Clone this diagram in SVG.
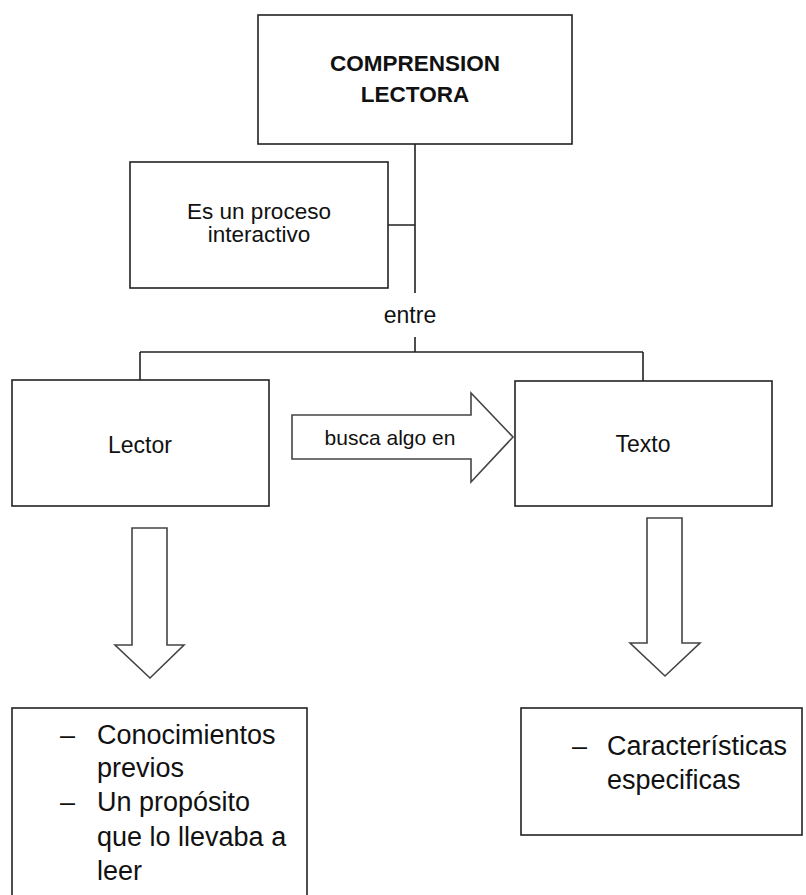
<svg xmlns="http://www.w3.org/2000/svg" width="806" height="895" viewBox="0 0 806 895">
<style>
.box{fill:#fff;stroke:#222;stroke-width:1.6}
.line{fill:none;stroke:#222;stroke-width:1.6}
.arrow{fill:#fff;stroke:#444;stroke-width:1.6;stroke-linejoin:miter}
text{font-family:"Liberation Sans",Arial,sans-serif;fill:#111}
.c{text-anchor:middle}
</style>
<rect width="806" height="895" fill="#fff"/>
<g id="connectors">
<path class="line" d="M415 144V293M415 337V352M140 352H643M140 352V380M643 352V381M388 225H415"/>
<polygon class="arrow" points="292,415 471,415 471,393 513,437 471,482 471,459 292,459"/>
<polygon class="arrow" points="132,528 167,528 167,645 184,645 150,678 115,645 132,645"/>
<polygon class="arrow" points="647,518 682,518 682,643 700,643 665,676 630,643 647,643"/>
<text class="c" x="410" y="323" font-size="23">entre</text>
<text class="c" x="390" y="445" font-size="21">busca algo en</text>
</g>
<g id="comprension">
<rect class="box" x="258" y="15" width="314" height="129"/>
<text class="c" x="415" y="71" font-size="22.5" font-weight="bold">COMPRENSION</text>
<text class="c" x="415" y="102" font-size="22.5" font-weight="bold">LECTORA</text>
</g>
<g id="proceso">
<rect class="box" x="130" y="162" width="258" height="126"/>
<text class="c" x="259" y="219" font-size="22.5">Es un proceso</text>
<text class="c" x="259" y="242" font-size="22.5">interactivo</text>
</g>
<g id="lector">
<rect class="box" x="12" y="380" width="257" height="126"/>
<text class="c" x="140" y="453" font-size="23">Lector</text>
</g>
<g id="texto">
<rect class="box" x="515" y="381" width="257" height="125"/>
<text class="c" x="643" y="452" font-size="23">Texto</text>
</g>
<g id="lector-items">
<rect class="box" x="12" y="708" width="295" height="200"/>
<text x="60" y="744" font-size="27">–</text>
<text x="97" y="744" font-size="27">Conocimientos</text>
<text x="97" y="777" font-size="27">previos</text>
<text x="60" y="811" font-size="27">–</text>
<text x="97" y="811" font-size="27">Un propósito</text>
<text x="97" y="846" font-size="27">que lo llevaba a</text>
<text x="97" y="880" font-size="27">leer</text>
</g>
<g id="texto-items">
<rect class="box" x="521" y="708" width="281" height="127"/>
<text x="572" y="755" font-size="27">–</text>
<text x="607" y="755" font-size="27">Características</text>
<text x="607" y="789" font-size="27">especificas</text>
</g>
</svg>
